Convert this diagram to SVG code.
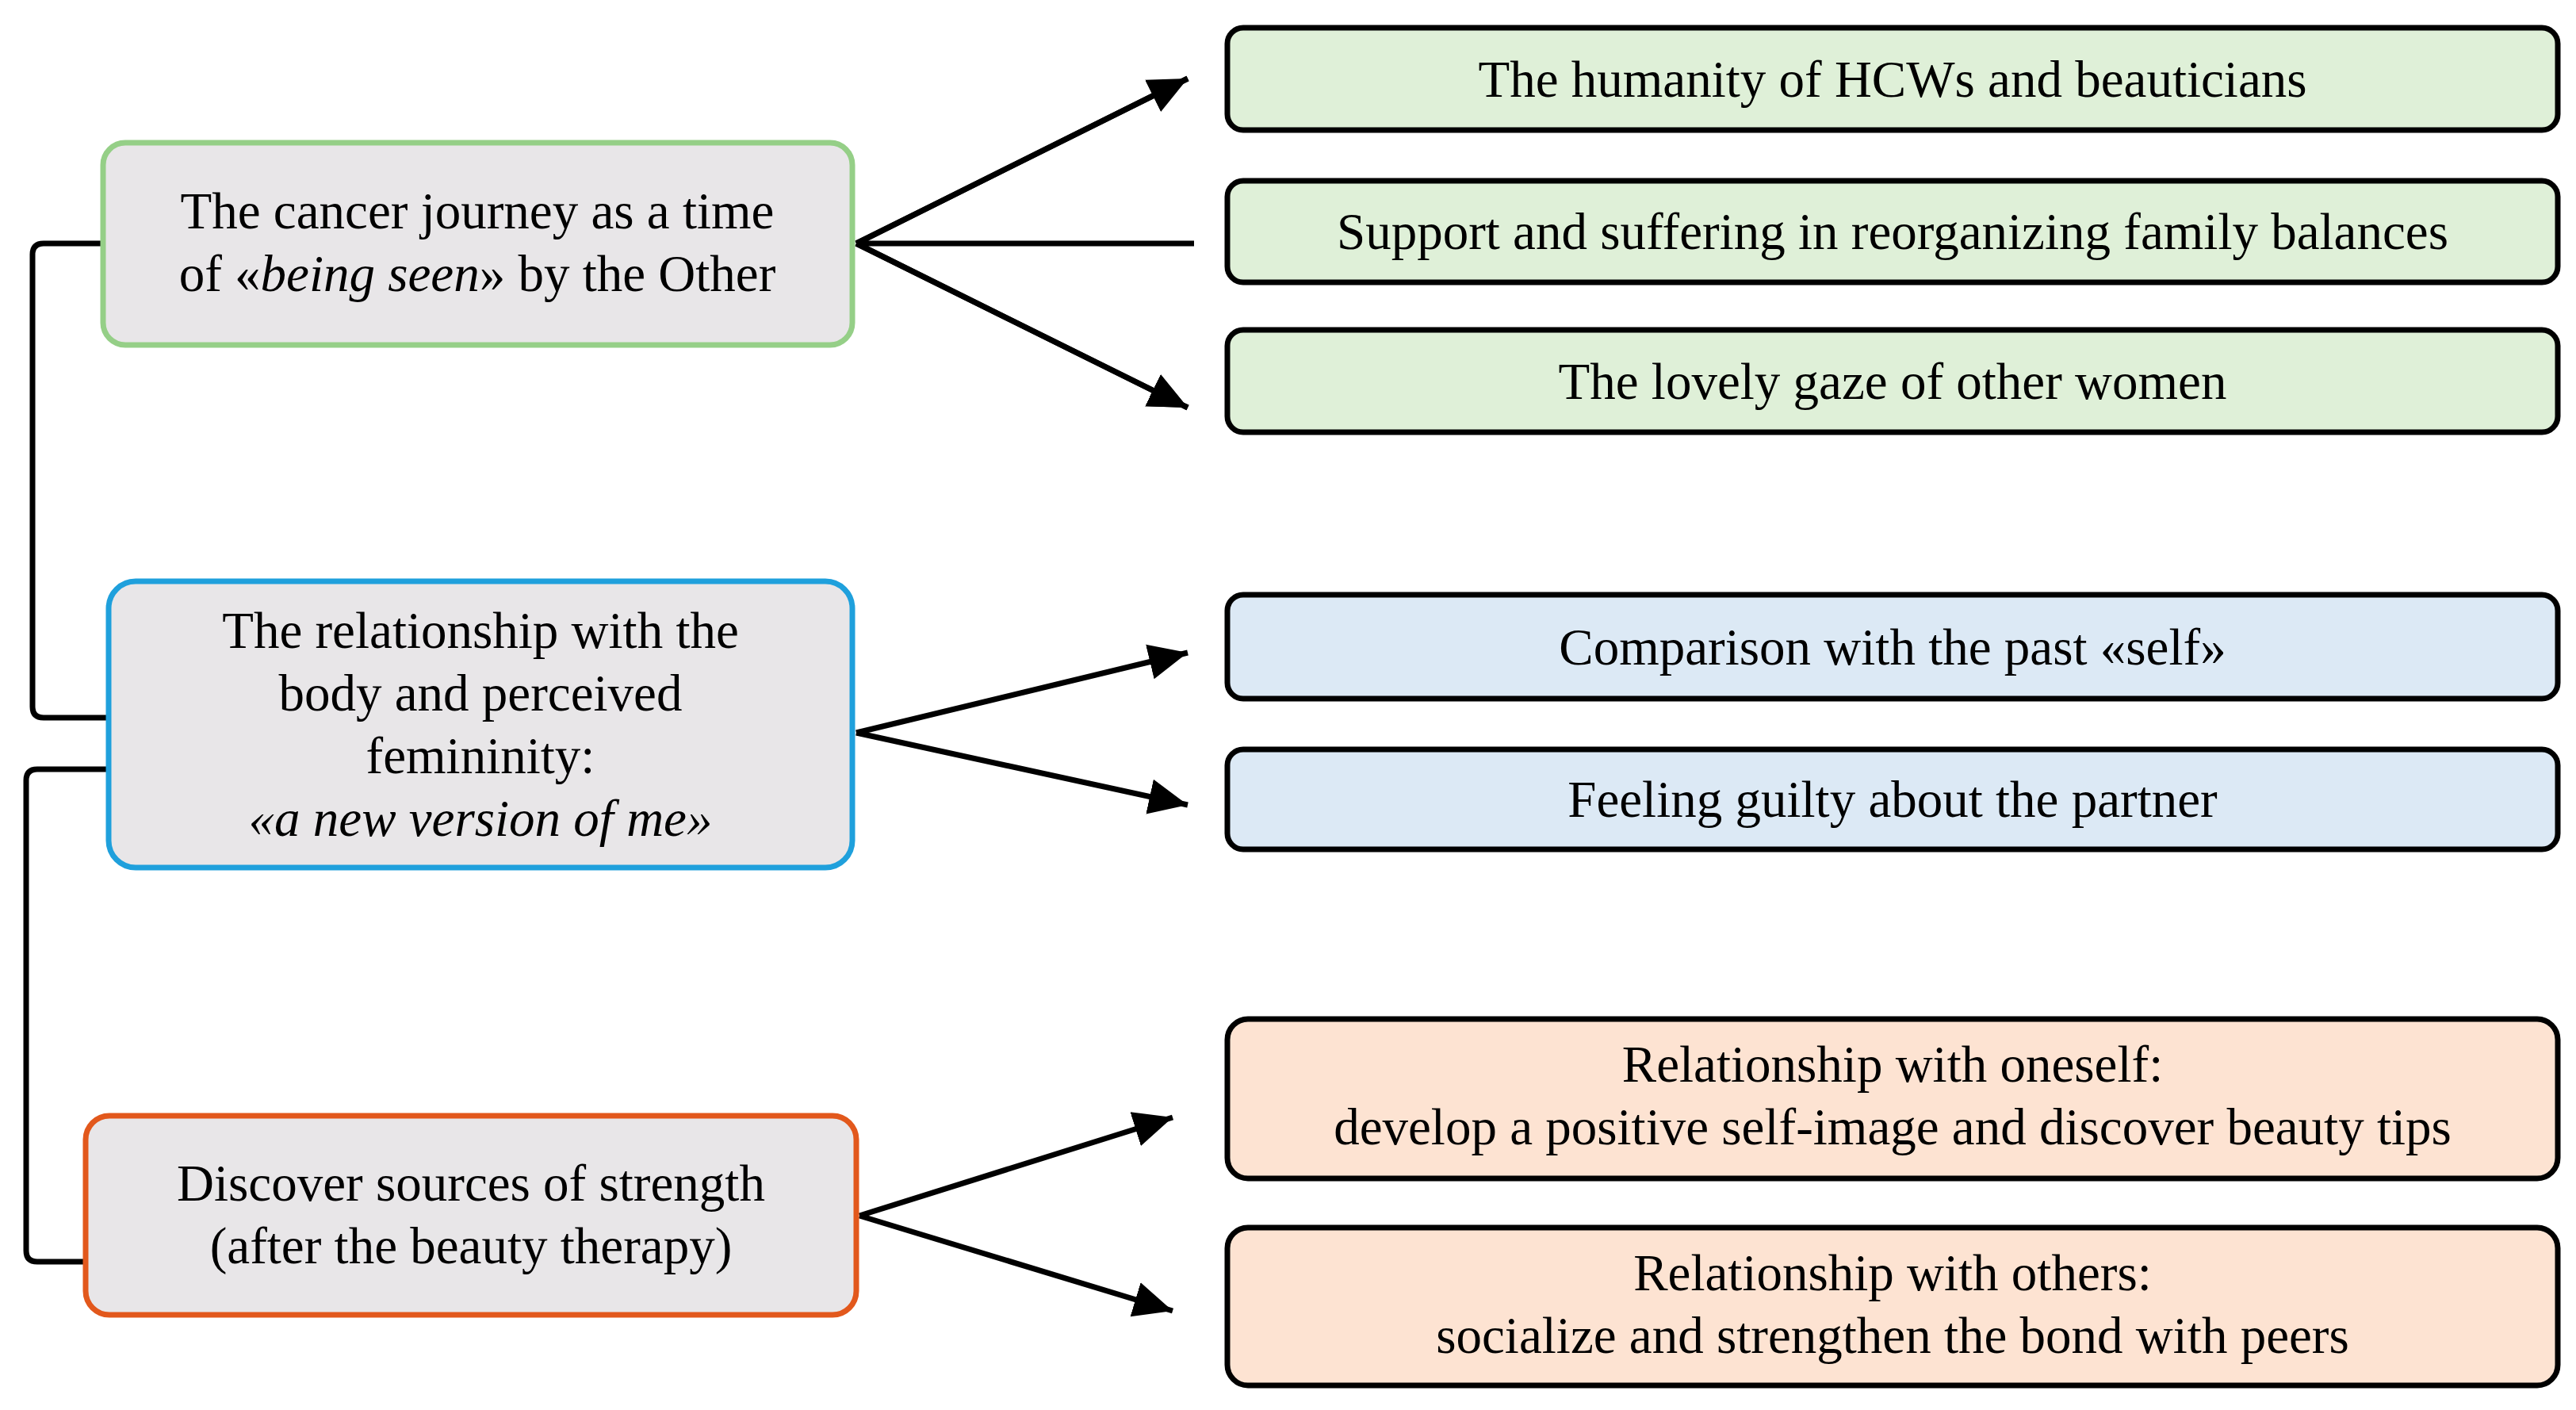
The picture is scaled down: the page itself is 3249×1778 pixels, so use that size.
<svg xmlns="http://www.w3.org/2000/svg" width="3249" height="1778" viewBox="0 0 3249 1778">
<style>
text{font-family:"Liberation Serif","DejaVu Serif",serif;font-size:65px;fill:#000;text-anchor:middle}
.it{font-style:italic}
.l{fill:#e8e6e8;stroke-width:7}
.r{stroke:#000;stroke-width:7}
.c{fill:none;stroke:#000;stroke-width:7}
</style>
<defs><marker id="a" markerWidth="8" markerHeight="8" refX="7" refY="4" orient="auto" markerUnits="strokeWidth"><path d="M0,0.8 L7,4 L0,7.2z" fill="#000"/></marker></defs>
<rect width="3249" height="1778" fill="#fff"/>
<g id="connectors">
<path class="c" d="M1080,307 L1498,99 M1080,307 L1506,307 M1080,307 L1498,514" marker-end="url(#a)"/>
<path class="c" d="M1080,307 L1498,99" marker-end="url(#a)"/>
<path class="c" d="M1080,307 L1498,514" marker-end="url(#a)"/>
<path class="c" d="M1080,924 L1498,823" marker-end="url(#a)"/>
<path class="c" d="M1080,924 L1498,1015" marker-end="url(#a)"/>
<path class="c" d="M1084,1533 L1479,1409" marker-end="url(#a)"/>
<path class="c" d="M1084,1533 L1479,1653" marker-end="url(#a)"/>
<path class="c" d="M130,307 L55,307 Q41,307 41,321 L41,891 Q41,905 55,905 L137,905"/>
<path class="c" d="M137,970 L47,970 Q33,970 33,984 L33,1577 Q33,1591 47,1591 L108,1591"/>
</g>
<g id="n1"><rect class="l" x="130" y="180" width="945" height="255" rx="28" stroke="#95cf87"/>
<text x="602" y="288">The cancer journey as a time</text><text x="602" y="367">of «<tspan class="it">being seen</tspan>» by the Other</text></g>
<g id="n2"><rect class="l" x="137" y="733" width="938" height="361" rx="34" stroke="#1fa0dc"/>
<text x="606" y="817">The relationship with the</text><text x="606" y="896">body and perceived</text><text x="606" y="975">femininity:</text><text x="606" y="1054" class="it">«a new version of me»</text></g>
<g id="n3"><rect class="l" x="108" y="1407" width="972" height="251" rx="30" stroke="#e2581c"/>
<text x="594" y="1514">Discover sources of strength</text><text x="594" y="1593">(after the beauty therapy)</text></g>
<g id="r1"><rect class="r" x="1548" y="35" width="1678" height="129" rx="20" fill="#dff0d8"/><text x="2387" y="122">The humanity of HCWs and beauticians</text></g>
<g id="r2"><rect class="r" x="1548" y="228" width="1678" height="128" rx="20" fill="#dff0d8"/><text x="2387" y="314">Support and suffering in reorganizing family balances</text></g>
<g id="r3"><rect class="r" x="1548" y="416" width="1678" height="129" rx="20" fill="#dff0d8"/><text x="2387" y="503">The lovely gaze of other women</text></g>
<g id="r4"><rect class="r" x="1548" y="750" width="1678" height="131" rx="20" fill="#dce9f5"/><text x="2387" y="838">Comparison with the past «self»</text></g>
<g id="r5"><rect class="r" x="1548" y="945" width="1678" height="126" rx="20" fill="#dce9f5"/><text x="2387" y="1030">Feeling guilty about the partner</text></g>
<g id="r6"><rect class="r" x="1548" y="1285" width="1678" height="201" rx="26" fill="#fde3d2"/><text x="2387" y="1364">Relationship with oneself:</text><text x="2387" y="1443">develop a positive self-image and discover beauty tips</text></g>
<g id="r7"><rect class="r" x="1548" y="1548" width="1678" height="199" rx="26" fill="#fde3d2"/><text x="2387" y="1627">Relationship with others:</text><text x="2387" y="1706">socialize and strengthen the bond with peers</text></g>
</svg>
